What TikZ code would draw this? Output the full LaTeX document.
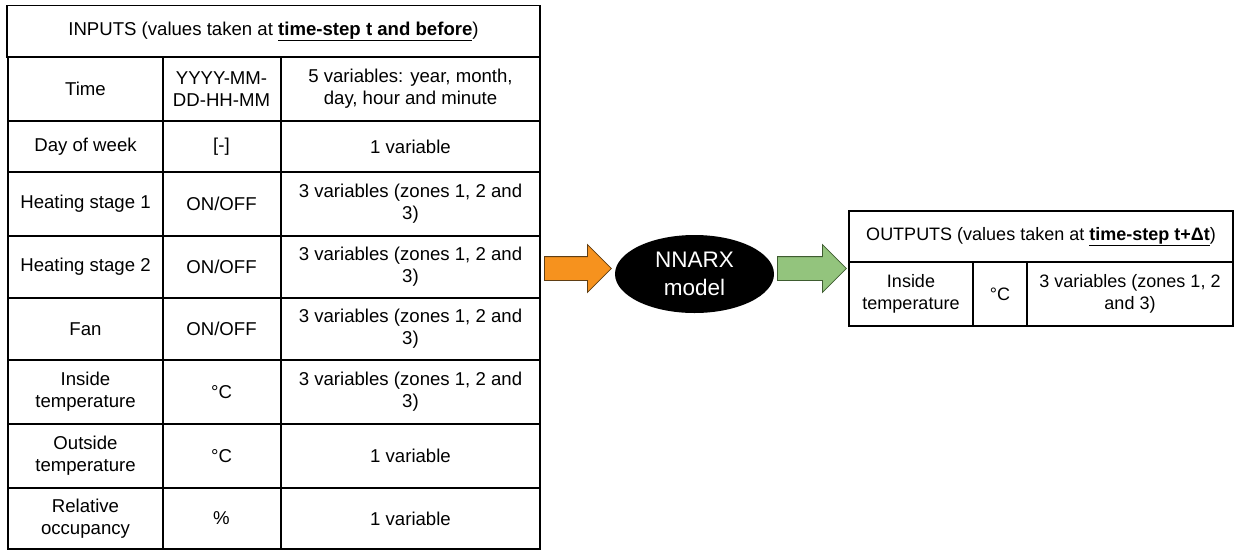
\documentclass[tikz,border=0pt]{standalone}
\usepackage{fontspec}
\setmainfont{Liberation Sans}
\usepackage{tikz}
\tikzstyle{cell} = [rectangle, draw = black, line width=1.3pt, inner sep=0pt, align=center, font=\fontsize{18.6}{21.7}\selectfont]
\tikzstyle{outcell} = [cell, font=\fontsize{18}{21.5}\selectfont]
\tikzstyle{model} = [ellipse, fill=black, text=white, inner sep=0pt, minimum width=159pt, minimum height=78pt, align=center, font=\fontsize{22.5}{28}\selectfont]
\tikzstyle{blockarrow} = [single arrow, anchor=tail, inner xsep=0pt, inner ysep=11.5pt, line width=0.8pt, minimum height=67pt, single arrow head extend=12pt]
\definecolor{inorange}{RGB}{246,146,30}
\definecolor{inorangeline}{RGB}{95,62,20}
\definecolor{outgreen}{RGB}{147,196,125}
\definecolor{outgreenline}{RGB}{62,92,48}
\usetikzlibrary{shapes.geometric, shapes.arrows, positioning}

\begin{document}
\begin{tikzpicture}[x=1pt, y=-1pt]
      \useasboundingbox (0,0) rectangle (1235,550);
      \node[cell, minimum width=533, minimum height=51.5] (inhead) at (273.5,31.25) {INPUTS (values taken at \underline{\textbf{time-step t and before}})};

      \node[cell, minimum width=155, minimum height=64] (time) at (85.5,89) {Time};
      \node[cell, minimum width=118, minimum height=64] (timeunit) at (221.5,89) {YYYY-MM-\\DD-HH-MM};
      \node[cell, minimum width=259, minimum height=64] (timevar) at (410.5,89) {5 variables: year, month,\\day, hour and minute};

      \node[cell, minimum width=155, minimum height=51] (dow) at (85.5,146.5) {Day of week};
      \node[cell, minimum width=118, minimum height=51] (dowunit) at (221.5,146.5) {[-]};
      \node[cell, minimum width=259, minimum height=51] (dowvar) at (410.5,146.5) {1 variable};

      \node[cell, minimum width=155, minimum height=64] (heat1) at (85.5,204) {Heating stage 1};
      \node[cell, minimum width=118, minimum height=64] (heat1unit) at (221.5,204) {ON/OFF};
      \node[cell, minimum width=259, minimum height=64] (heat1var) at (410.5,204) {3 variables (zones 1, 2 and\\3)};

      \node[cell, minimum width=155, minimum height=62] (heat2) at (85.5,267) {Heating stage 2};
      \node[cell, minimum width=118, minimum height=62] (heat2unit) at (221.5,267) {ON/OFF};
      \node[cell, minimum width=259, minimum height=62] (heat2var) at (410.5,267) {3 variables (zones 1, 2 and\\3)};

      \node[cell, minimum width=155, minimum height=62] (fan) at (85.5,329) {Fan};
      \node[cell, minimum width=118, minimum height=62] (fanunit) at (221.5,329) {ON/OFF};
      \node[cell, minimum width=259, minimum height=62] (fanvar) at (410.5,329) {3 variables (zones 1, 2 and\\3)};

      \node[cell, minimum width=155, minimum height=64] (intemp) at (85.5,392) {Inside\\temperature};
      \node[cell, minimum width=118, minimum height=64] (intempunit) at (221.5,392) {°C};
      \node[cell, minimum width=259, minimum height=64] (intempvar) at (410.5,392) {3 variables (zones 1, 2 and\\3)};

      \node[cell, minimum width=155, minimum height=64] (outtemp) at (85.5,456) {Outside\\temperature};
      \node[cell, minimum width=118, minimum height=64] (outtempunit) at (221.5,456) {°C};
      \node[cell, minimum width=259, minimum height=64] (outtempvar) at (410.5,456) {1 variable};

      \node[cell, minimum width=155, minimum height=61] (occ) at (85.5,518.5) {Relative\\occupancy};
      \node[cell, minimum width=118, minimum height=61] (occunit) at (221.5,518.5) {\%};
      \node[cell, minimum width=259, minimum height=61] (occvar) at (410.5,518.5) {1 variable};

      \node[blockarrow, fill=inorange, draw=inorangeline] (inarrow) at (544,268.5) {};
      \node[model] (nnarx) at (694.5,274) {NNARX\\model};
      \node[blockarrow, fill=outgreen, draw=outgreenline, minimum height=69pt] (outarrow) at (777,268.5) {};

      \node[outcell, minimum width=384, minimum height=51] (outhead) at (1041,236.5) {OUTPUTS (values taken at \underline{\textbf{time-step t+Δt}})};
      \node[outcell, minimum width=124, minimum height=64] (outvar) at (911,294) {Inside\\temperature};
      \node[outcell, minimum width=54, minimum height=64] (outunit) at (1000,294) {°C};
      \node[outcell, minimum width=206, minimum height=64] (outdesc) at (1130,294) {3 variables (zones 1, 2\\and 3)};
    \end{tikzpicture}
\end{document}
